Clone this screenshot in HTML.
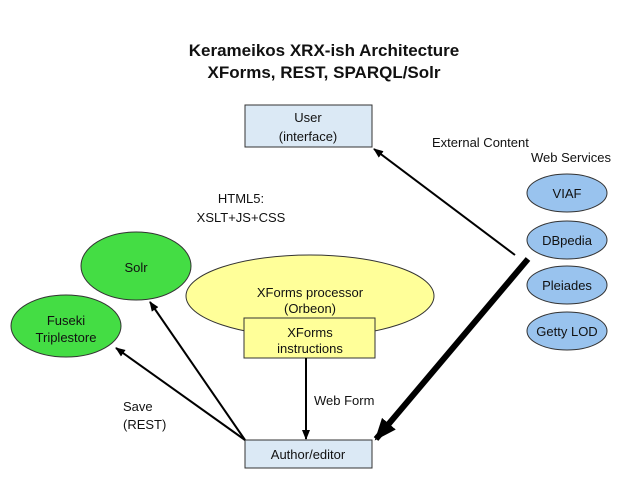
<!DOCTYPE html>
<html><head><style>
body{margin:0;width:638px;height:479px;background:#fff;overflow:hidden}
svg text{font-family:"Liberation Sans",sans-serif;fill:#111}
</style></head><body>
<svg width="638" height="479" viewBox="0 0 638 479">
<defs>
<marker id="a" markerWidth="10" markerHeight="10" refX="9" refY="5" orient="auto" markerUnits="userSpaceOnUse"><path d="M0,1 L10,5 L0,9 z" fill="#000"/></marker>
<marker id="b" markerWidth="22" markerHeight="22" refX="20" refY="11" orient="auto" markerUnits="userSpaceOnUse"><path d="M0,2 L22,11 L0,20 z" fill="#000"/></marker>
</defs>
<text x="324" y="56" text-anchor="middle" font-size="17" font-weight="bold">Kerameikos XRX-ish Architecture</text>
<text x="324" y="78" text-anchor="middle" font-size="17" font-weight="bold">XForms, REST, SPARQL/Solr</text>
<rect x="245" y="105" width="127" height="42" fill="#dbe9f5" stroke="#333"/>
<text x="308" y="122" text-anchor="middle" font-size="13">User</text>
<text x="308" y="141" text-anchor="middle" font-size="13">(interface)</text>
<text x="432" y="147" font-size="13">External Content</text>
<text x="531" y="162" font-size="13">Web Services</text>
<text x="241" y="203" text-anchor="middle" font-size="13">HTML5:</text>
<text x="241" y="222" text-anchor="middle" font-size="13">XSLT+JS+CSS</text>
<ellipse cx="567" cy="193" rx="40" ry="19" fill="#99c3ee" stroke="#333"/>
<ellipse cx="567" cy="240" rx="40" ry="19" fill="#99c3ee" stroke="#333"/>
<ellipse cx="567" cy="285" rx="40" ry="19" fill="#99c3ee" stroke="#333"/>
<ellipse cx="567" cy="331" rx="40" ry="19" fill="#99c3ee" stroke="#333"/>
<text x="567" y="198" text-anchor="middle" font-size="13">VIAF</text>
<text x="567" y="245" text-anchor="middle" font-size="13">DBpedia</text>
<text x="567" y="290" text-anchor="middle" font-size="13">Pleiades</text>
<text x="567" y="336" text-anchor="middle" font-size="13">Getty LOD</text>
<ellipse cx="136" cy="266" rx="55" ry="34" fill="#44dd44" stroke="#333"/>
<text x="136" y="272" text-anchor="middle" font-size="13">Solr</text>
<ellipse cx="66" cy="326" rx="55" ry="31" fill="#44dd44" stroke="#333"/>
<text x="66" y="325" text-anchor="middle" font-size="13">Fuseki</text>
<text x="66" y="342" text-anchor="middle" font-size="13">Triplestore</text>
<ellipse cx="310" cy="296" rx="124" ry="41" fill="#ffff99" stroke="#333"/>
<text x="310" y="297" text-anchor="middle" font-size="13">XForms processor</text>
<text x="310" y="313" text-anchor="middle" font-size="13">(Orbeon)</text>
<rect x="244" y="318" width="131" height="40" fill="#ffff99" stroke="#333"/>
<text x="310" y="337" text-anchor="middle" font-size="13">XForms</text>
<text x="310" y="353" text-anchor="middle" font-size="13">instructions</text>
<rect x="245" y="440" width="127" height="28" fill="#dbe9f5" stroke="#333"/>
<text x="308" y="459" text-anchor="middle" font-size="13">Author/editor</text>
<text x="314" y="405" font-size="13">Web Form</text>
<text x="123" y="411" font-size="13">Save</text>
<text x="123" y="429" font-size="13">(REST)</text>
<line x1="515" y1="255" x2="374" y2="149" stroke="#000" stroke-width="2" marker-end="url(#a)"/>
<line x1="528" y1="259" x2="376" y2="439" stroke="#000" stroke-width="6" marker-end="url(#b)"/>
<line x1="245" y1="440" x2="150" y2="302" stroke="#000" stroke-width="2" marker-end="url(#a)"/>
<line x1="245" y1="440" x2="116" y2="348" stroke="#000" stroke-width="2" marker-end="url(#a)"/>
<line x1="306" y1="358" x2="306" y2="439" stroke="#000" stroke-width="2" marker-end="url(#a)"/>
</svg>
</body></html>
